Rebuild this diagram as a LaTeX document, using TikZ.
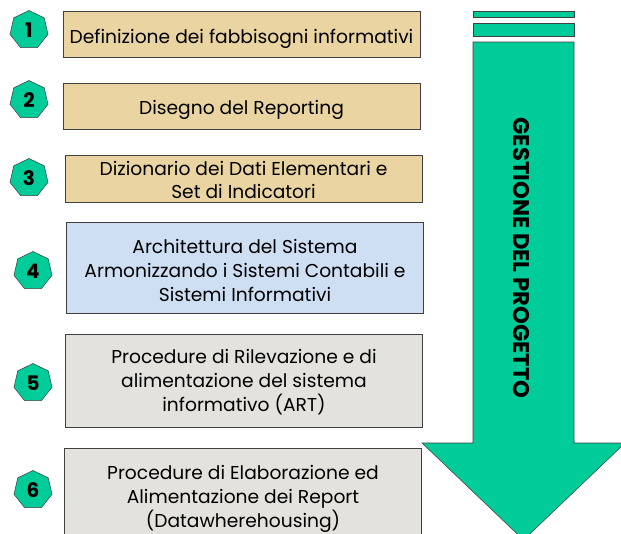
\documentclass[tikz,border=0pt]{standalone}
\usepackage{fontspec}
\setmainfont{Poppins}
\usetikzlibrary{shapes.geometric}

\definecolor{badgegreen}{RGB}{0,204,153}
\definecolor{parchment}{RGB}{233,212,162}
\definecolor{skyblue}{RGB}{206,223,244}
\definecolor{stonegray}{RGB}{227,226,221}

\begin{document}
\begin{tikzpicture}[x=0.75pt,y=0.75pt,yscale=-1,xscale=1,
  numbadge/.style={regular polygon,regular polygon sides=7,minimum size=29.25pt,inner sep=0pt,draw=black!75,fill=badgegreen,font=\bfseries\fontsize{15}{15}\selectfont},
  stepbox/.style={draw=black!75,minimum width=267.75pt,inner sep=0pt},
  steptext/.style={inner sep=0pt,align=center,font=\fontsize{14}{18}\selectfont}]
\clip (0,0) rectangle (621,533);
\fill[white] (0,0) rectangle (621,533);

%Shape: Arrow bars
\draw[draw=black!75,fill=badgegreen] (473,11) rectangle (574,17);
\draw[draw=black!75,fill=badgegreen] (473,23) rectangle (574,36);
%Shape: Down Arrow
\draw[draw=black!75,fill=badgegreen] (473,42) -- (574,42) -- (574,443) -- (625,443) -- (523.5,540) -- (422,443) -- (473,443) -- cycle;
% Text Node
\node (gestione) [rotate=-90,font=\bfseries\fontsize{17}{17}\selectfont] at (521.5,258) {GESTIONE DEL PROGETTO};

%Shape: Steps
\node (s1) [stepbox,fill=parchment,minimum height=34.5pt] at (241.5,34.5) {};
\node (s2) [stepbox,fill=parchment,minimum height=34.5pt] at (241.5,106.5) {};
\node (s3) [stepbox,fill=parchment,minimum height=35.25pt] at (243.5,178.5) {};
\node (s4) [stepbox,fill=skyblue,minimum height=68.25pt] at (245,267.5) {};
\node (s5) [stepbox,fill=stonegray,minimum height=69.75pt] at (244,380.5) {};
\node (s6) [stepbox,fill=stonegray,minimum height=72.75pt] at (243,496.5) {};

% Text Node
\node (t1) [steptext,anchor=base] at (241.5,43.5) {Definizione dei fabbisogni informativi};
\node (t2) [steptext,anchor=base] at (241.5,114) {Disegno del Reporting};
\node (t3) [steptext,font=\fontsize{14}{17.25}\selectfont] at (243.5,180) {Dizionario dei Dati Elementari e\\Set di Indicatori};
\node (t4) [steptext] at (245,270) {Architettura del Sistema\\Armonizzando i Sistemi Contabili e\\Sistemi Informativi};
\node (t5) [steptext] at (244,382) {Procedure di Rilevazione e di\\alimentazione del sistema\\informativo (ART)};
\node (t6) [steptext] at (243,499) {Procedure di Elaborazione ed\\Alimentazione dei Report\\(Datawherehousing)};

%Shape: Badges
\node (n1) [numbadge] at (29,30) {1};
\node (n2) [numbadge] at (29,100) {2};
\node (n3) [numbadge] at (29,178) {3};
\node (n4) [numbadge] at (33,271) {4};
\node (n5) [numbadge] at (33,383) {5};
\node (n6) [numbadge] at (33,490) {6};
\end{tikzpicture}
\end{document}
